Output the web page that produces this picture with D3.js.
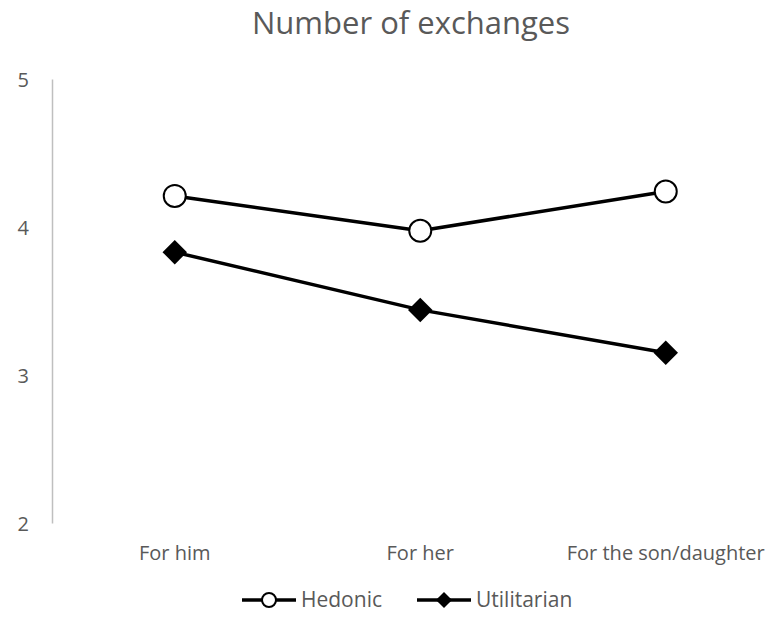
<!DOCTYPE html>
<html>
<head>
<meta charset="utf-8">
<script src="https://cdn.jsdelivr.net/npm/d3@7/dist/d3.min.js"></script>
<style>
  html, body { margin: 0; padding: 0; background: #ffffff; }
  svg { display: block; font-family: "Open Sans", "Noto Sans", sans-serif; }
</style>
</head>
<body>
<svg id="chart" width="771" height="618"></svg>
<script>
// Categories and series values
const categories = ["For him", "For her", "For the son/daughter"];
const hedonic = [4.21, 3.975, 4.24];
const utilitarian = [3.83, 3.44, 3.15];
const yTicks = [2, 3, 4, 5];
const seriesNames = ["Hedonic", "Utilitarian"];

const svg = d3.select("#chart");
const textColor = "#595959";

const x = d3.scaleBand().domain(categories).range([52, 788.5]).padding(0);
const y = d3.scaleLinear().domain([2, 5]).range([523, 79]);
const cx = c => x(c) + x.bandwidth() / 2;

// Title
svg.append("text")
  .attr("x", 411).attr("y", 34)
  .attr("text-anchor", "middle")
  .attr("fill", textColor)
  .style("font-size", "31px")
  .text("Number of exchanges");

// Value axis
const yAxis = d3.axisLeft(y).tickValues(yTicks).tickSize(0).tickPadding(0).tickFormat(d3.format("d"));
const yg = svg.append("g").attr("transform", "translate(52,0)").call(yAxis);
yg.select(".domain").attr("stroke", "#bfbfbf").attr("stroke-width", 1.5);
yg.selectAll("text")
  .attr("x", -23).attr("dy", "0.35em")
  .attr("fill", textColor)
  .style("font-size", "20px")
  .style("font-family", "'Open Sans', sans-serif");

// Category axis (labels only)
const xAxis = d3.axisBottom(x).tickSize(0).tickPadding(0);
const xg = svg.append("g").attr("transform", "translate(0,523)").call(xAxis);
xg.select(".domain").remove();
xg.selectAll("text")
  .attr("y", 30).attr("dy", "0.35em")
  .attr("fill", textColor)
  .style("font-size", "20px")
  .style("font-family", "'Open Sans', sans-serif");

const line = d3.line().x((d, i) => cx(categories[i])).y(d => y(d));

const diamond = d3.symbol().type(d3.symbolSquare);

function drawSeries(values, kind) {
  svg.append("path")
    .datum(values)
    .attr("d", line)
    .attr("fill", "none")
    .attr("stroke", "#000")
    .attr("stroke-width", 3.5)
    .attr("stroke-linejoin", "round");
  const g = svg.append("g");
  values.forEach((v, i) => {
    const px = cx(categories[i]), py = y(v);
    if (kind === "circle") {
      g.append("circle").attr("cx", px).attr("cy", py).attr("r", 11)
        .attr("fill", "#fff").attr("stroke", "#000").attr("stroke-width", 2);
    } else {
      g.append("path").attr("d", diamond.size(300)())
        .attr("transform", `translate(${px},${py}) rotate(45)`)
        .attr("fill", "#000");
    }
  });
}

drawSeries(hedonic, "circle");
drawSeries(utilitarian, "diamond");

// Legend
const legendY = 600;
const legendItems = [
  { name: seriesNames[0], kind: "circle", x0: 242 },
  { name: seriesNames[1], kind: "diamond", x0: 417 }
];
legendItems.forEach(it => {
  const g = svg.append("g");
  g.append("line").attr("x1", it.x0).attr("x2", it.x0 + 54)
    .attr("y1", legendY).attr("y2", legendY)
    .attr("stroke", "#000").attr("stroke-width", 3.5);
  const mx = it.x0 + 27;
  if (it.kind === "circle") {
    g.append("circle").attr("cx", mx).attr("cy", legendY).attr("r", 7)
      .attr("fill", "#fff").attr("stroke", "#000").attr("stroke-width", 2);
  } else {
    g.append("path").attr("d", diamond.size(130)())
      .attr("transform", `translate(${mx},${legendY}) rotate(45)`)
      .attr("fill", "#000");
  }
  g.append("text").attr("x", it.x0 + 59).attr("y", legendY).attr("dy", "0.35em")
    .attr("fill", textColor).style("font-size", "21px")
    .text(it.name);
});
</script>
</body>
</html>
